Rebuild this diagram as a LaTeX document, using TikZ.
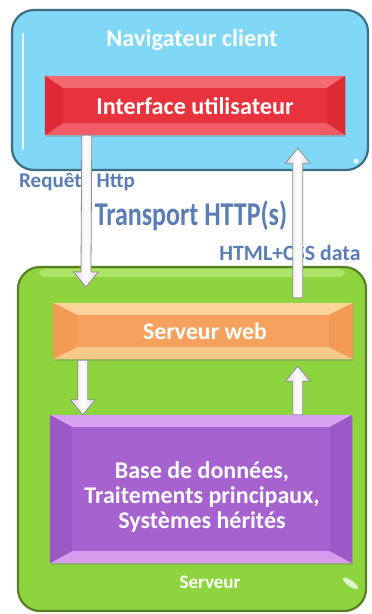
\documentclass[tikz,border=0pt]{standalone}
\usepackage{fontspec}
\setmainfont{Carlito}
\usetikzlibrary{calc,shadows}
\definecolor{cbluefill}{HTML}{80D8F6}
\definecolor{cblueedge}{HTML}{3E6E84}
\definecolor{cgreenfill}{HTML}{8DD43E}
\definecolor{cgreenedge}{HTML}{5A7E26}
\definecolor{cgreenhi}{HTML}{AEE46A}
\definecolor{credfill}{HTML}{E8333D}
\definecolor{credtop}{HTML}{F36A72}
\definecolor{credbot}{HTML}{F05C66}
\definecolor{credside}{HTML}{DD2A35}
\definecolor{corfill}{HTML}{F6A25E}
\definecolor{cortop}{HTML}{FBD49A}
\definecolor{corbot}{HTML}{FAC98A}
\definecolor{corside}{HTML}{F39A55}
\definecolor{cpufill}{HTML}{A662CF}
\definecolor{cputop}{HTML}{D9A2F2}
\definecolor{cpubot}{HTML}{D59CEE}
\definecolor{cpuside}{HTML}{9C58C6}
\definecolor{clabel}{HTML}{5B7DB6}
\definecolor{carrowedge}{HTML}{8C8C94}
\newcommand\bevelfx[5]{%
  \fill[#2] (#1.north west) -- (#1.north east) -- ($(#1.north east)+(-#5,12)$) -- ($(#1.north west)+(#5,12)$) -- cycle;
  \fill[#3] (#1.south west) -- (#1.south east) -- ($(#1.south east)+(-#5,-12)$) -- ($(#1.south west)+(#5,-12)$) -- cycle;
  \fill[#4] (#1.north west) -- ($(#1.north west)+(#5,12)$) -- ($(#1.south west)+(#5,-12)$) -- (#1.south west) -- cycle;
  \fill[#4] (#1.north east) -- ($(#1.north east)+(-#5,12)$) -- ($(#1.south east)+(-#5,-12)$) -- (#1.south east) -- cycle;
}
\newcommand\blockarrow[2]{%
  \coordinate (hb) at ($(#2)!15pt!(#1)$);
  \draw[blockarr] ($(#1)!5pt!-90:(#2)$) -- ($(hb)!5pt!-90:(#2)$) -- ($(hb)!12.5pt!-90:(#2)$) -- (#2)
     -- ($(hb)!12.5pt!90:(#2)$) -- ($(hb)!5pt!90:(#2)$) -- ($(#1)!5pt!90:(#2)$) -- cycle;
}
\begin{document}
\begin{tikzpicture}[x=1pt,y=-1pt,
  bigbox/.style={draw, line width=2.2pt, rounded corners=22pt, inner sep=0pt},
  bevbox/.style={inner sep=0pt, text=white, align=center,
    drop shadow={opacity=0.35, shadow xshift=1pt, shadow yshift=-2pt}},
  whitetxt/.style={text=white, inner sep=0pt},
  lbl/.style={text=clabel, inner sep=0pt},
  blockarr/.style={draw=carrowedge, line width=0.8pt, left color=gray!30, right color=gray!30, middle color=white}
]
\useasboundingbox (0,0) rectangle (372,614);
\fill[white] (0,0) rectangle (372,614);

% client
\node[bigbox, draw=cblueedge, fill=cbluefill, minimum width=356pt, minimum height=160pt] (client) at (190,90) {};
\draw[white, line width=2pt, line cap=round, opacity=0.8] ($(client.north west)+(12,25)$) -- ($(client.south west)+(12,-22)$);
\fill[white, opacity=0.8] ($(client.south east)+(-13,-10)$) circle (2.5pt);
\node[whitetxt, font=\bfseries\fontsize{24.3}{27}\selectfont] (navlbl) at (192,40) {Navigateur client};
\node[bevbox, fill=credfill, minimum width=300pt, minimum height=59pt] (ui) at (195,105.5) {};
\bevelfx{ui}{credtop}{credbot}{credside}{18}
\node[whitetxt, font=\bfseries\fontsize{24.2}{27}\selectfont] (uilbl) at (195,106) {Interface utilisateur};

% server
\node[bigbox, draw=cgreenedge, fill=cgreenfill, minimum width=348pt, minimum height=344pt] (server) at (192,439) {};
\fill[cgreenhi, rounded corners=6pt] ($(server.north west)+(22,3)$) rectangle ($(server.north east)+(-22,11)$);
\fill[white, opacity=0.75, rotate around={-35:($(server.south east)+(-30,-14)$)}] ($(server.south east)+(-30,-14)$) ellipse (9pt and 3pt);
\node[bevbox, fill=corfill, minimum width=300pt, minimum height=56pt] (web) at (203,331) {};
\bevelfx{web}{cortop}{corbot}{corside}{24}
\node[whitetxt, font=\bfseries\fontsize{23.8}{27}\selectfont] (weblbl) at (205,331) {Serveur web};
\node[bevbox, fill=cpufill, minimum width=302pt, minimum height=148pt] (db) at (201,489) {};
\bevelfx{db}{cputop}{cpubot}{cpuside}{22}
\node[whitetxt, align=center, font=\bfseries\fontsize{24}{25}\selectfont] (dblbl) at (202,497) {Base de données,\\Traitements principaux,\\Systèmes hérités};
\node[whitetxt, font=\bfseries\fontsize{19}{22}\selectfont] (srvlbl) at (210,582) {Serveur};

% labels
\node[lbl, anchor=west, font=\bfseries\fontsize{21}{23}\selectfont] (req) at (19,182) {Requête Http};
\node[lbl, font=\bfseries\fontsize{26}{29}\selectfont] (transport) at (191,216) {\scalebox{1}[1.28]{Transport HTTP(s)}};
\node[lbl, font=\bfseries\fontsize{21.8}{24}\selectfont] (html) at (290,253) {HTML+CSS data};

% arrows
\coordinate (a1s) at ($(ui.south west)+(42,0)$);
\coordinate (a1e) at ($(server.north west)+(69,21)$);
\coordinate (a2s) at ($(web.north west)+(245,-5)$);
\coordinate (a2e) at ($(ui.south west)+(253,13)$);
\coordinate (a3s) at ($(web.south west)+(30,1)$);
\coordinate (a3e) at ($(db.north west)+(33,0)$);
\coordinate (a4s) at ($(db.north west)+(248,0)$);
\coordinate (a4e) at ($(web.south west)+(245,7)$);
\blockarrow{a1s}{a1e}
\blockarrow{a2s}{a2e}
\blockarrow{a3s}{a3e}
\blockarrow{a4s}{a4e}
\end{tikzpicture}
\end{document}
